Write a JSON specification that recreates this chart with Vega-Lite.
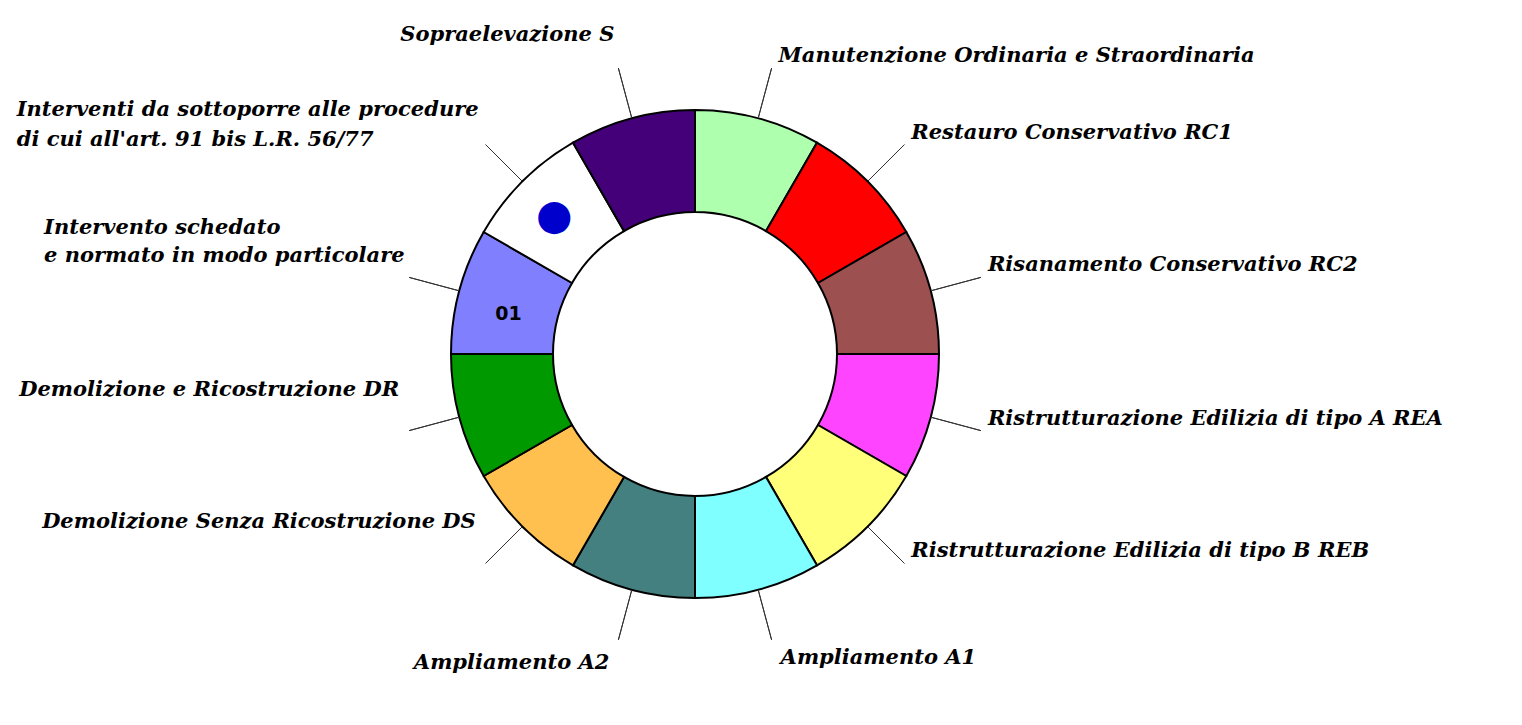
{
  "$schema": "https://vega.github.io/schema/vega-lite/v6.json",
  "width": 490,
  "height": 490,
  "autosize": {"type": "none"},
  "padding": {"left": 450, "top": 109, "right": 582, "bottom": 126},
  "background": "white",
  "config": {"view": {"stroke": null}},
  "data": {
    "values": [
      {"n": 1, "quota": 1, "tipo": "Manutenzione Ordinaria e Straordinaria", "codice": ""},
      {"n": 2, "quota": 1, "tipo": "Restauro Conservativo RC1", "codice": ""},
      {"n": 3, "quota": 1, "tipo": "Risanamento Conservativo RC2", "codice": ""},
      {"n": 4, "quota": 1, "tipo": "Ristrutturazione Edilizia di tipo A REA", "codice": ""},
      {"n": 5, "quota": 1, "tipo": "Ristrutturazione Edilizia di tipo B REB", "codice": ""},
      {"n": 6, "quota": 1, "tipo": "Ampliamento A1", "codice": ""},
      {"n": 7, "quota": 1, "tipo": "Ampliamento A2", "codice": ""},
      {"n": 8, "quota": 1, "tipo": "Demolizione Senza Ricostruzione DS", "codice": ""},
      {"n": 9, "quota": 1, "tipo": "Demolizione e Ricostruzione DR", "codice": ""},
      {"n": 10, "quota": 1, "tipo": "Intervento schedato\n e normato in modo particolare", "codice": "01"},
      {"n": 11, "quota": 1, "tipo": "Interventi da sottoporre alle procedure\ndi cui all'art. 91 bis L.R. 56/77", "codice": ""},
      {"n": 12, "quota": 1, "tipo": "Sopraelevazione S", "codice": ""}
    ]
  },
  "transform": [
    {"stack": "quota", "groupby": [], "sort": [{"field": "n", "order": "ascending"}], "as": ["s0", "s1"]}
  ],
  "layer": [
    {
      "mark": {"type": "arc", "innerRadius": 142, "outerRadius": 244, "stroke": "black", "strokeWidth": 2},
      "encoding": {
        "theta": {"field": "s0", "type": "quantitative", "scale": {"domain": [0, 12]}},
        "theta2": {"field": "s1"},
        "color": {
          "field": "tipo",
          "type": "nominal",
          "legend": null,
          "scale": {
            "domain": [
              "Manutenzione Ordinaria e Straordinaria",
              "Restauro Conservativo RC1",
              "Risanamento Conservativo RC2",
              "Ristrutturazione Edilizia di tipo A REA",
              "Ristrutturazione Edilizia di tipo B REB",
              "Ampliamento A1",
              "Ampliamento A2",
              "Demolizione Senza Ricostruzione DS",
              "Demolizione e Ricostruzione DR",
              "Intervento schedato\n e normato in modo particolare",
              "Interventi da sottoporre alle procedure\ndi cui all'art. 91 bis L.R. 56/77",
              "Sopraelevazione S"
            ],
            "range": ["#AEFFAE", "#FF0000", "#9C5050", "#FF44FF", "#FFFF7A", "#7FFFFF", "#448080", "#FFC050", "#009900", "#8080FF", "#FFFFFF", "#440078"]
          }
        }
      }
    },
    {
      "mark": {"type": "arc", "innerRadius": 245, "outerRadius": 296, "stroke": "#333333", "strokeWidth": 1, "fillOpacity": 0},
      "encoding": {
        "theta": {"field": "s0", "type": "quantitative", "scale": {"domain": [-0.5, 11.5]}},
        "theta2": {"field": "s0"}
      }
    },
    {
      "transform": [{"filter": "datum.n <= 5"}],
      "mark": {"type": "text", "radius": 296, "align": "left", "baseline": "middle", "dx": 7, "dy": -12, "font": "DejaVu Serif", "fontStyle": "italic", "fontWeight": "bold", "fontSize": 21, "color": "black"},
      "encoding": {
        "theta": {"field": "s0", "type": "quantitative", "scale": {"domain": [-0.5, 11.5]}},
        "text": {"field": "tipo"}
      }
    },
    {
      "transform": [{"filter": "datum.n == 6"}],
      "mark": {"type": "text", "radius": 296, "align": "left", "baseline": "middle", "dx": 9, "dy": 18, "font": "DejaVu Serif", "fontStyle": "italic", "fontWeight": "bold", "fontSize": 21, "color": "black"},
      "encoding": {
        "theta": {"field": "s0", "type": "quantitative", "scale": {"domain": [-0.5, 11.5]}},
        "text": {"field": "tipo"}
      }
    },
    {
      "transform": [{"filter": "datum.n == 7"}],
      "mark": {"type": "text", "radius": 296, "align": "right", "baseline": "middle", "dx": -9, "dy": 23, "font": "DejaVu Serif", "fontStyle": "italic", "fontWeight": "bold", "fontSize": 21, "color": "black"},
      "encoding": {
        "theta": {"field": "s0", "type": "quantitative", "scale": {"domain": [-0.5, 11.5]}},
        "text": {"field": "tipo"}
      }
    },
    {
      "transform": [{"filter": "datum.n == 8 || datum.n == 9"}],
      "mark": {"type": "text", "radius": 296, "align": "right", "baseline": "middle", "dx": -10, "dy": -41, "font": "DejaVu Serif", "fontStyle": "italic", "fontWeight": "bold", "fontSize": 21, "color": "black"},
      "encoding": {
        "theta": {"field": "s0", "type": "quantitative", "scale": {"domain": [-0.5, 11.5]}},
        "text": {"field": "tipo"}
      }
    },
    {
      "transform": [{"filter": "datum.n == 12"}],
      "mark": {"type": "text", "radius": 296, "align": "right", "baseline": "middle", "dx": -4, "dy": -33, "font": "DejaVu Serif", "fontStyle": "italic", "fontWeight": "bold", "fontSize": 21, "color": "black"},
      "encoding": {
        "theta": {"field": "s0", "type": "quantitative", "scale": {"domain": [-0.5, 11.5]}},
        "text": {"field": "tipo"}
      }
    },
    {
      "transform": [{"filter": "datum.n == 10"}],
      "mark": {"type": "text", "radius": 296, "align": "left", "baseline": "middle", "dx": -365, "dy": -49, "lineBreak": "\n", "lineHeight": 28, "font": "DejaVu Serif", "fontStyle": "italic", "fontWeight": "bold", "fontSize": 21, "color": "black"},
      "encoding": {
        "theta": {"field": "s0", "type": "quantitative", "scale": {"domain": [-0.5, 11.5]}},
        "text": {"field": "tipo"}
      }
    },
    {
      "transform": [{"filter": "datum.n == 11"}],
      "mark": {"type": "text", "radius": 296, "align": "left", "baseline": "middle", "dx": -469, "dy": -35, "lineBreak": "\n", "lineHeight": 30, "font": "DejaVu Serif", "fontStyle": "italic", "fontWeight": "bold", "fontSize": 21, "color": "black"},
      "encoding": {
        "theta": {"field": "s0", "type": "quantitative", "scale": {"domain": [-0.5, 11.5]}},
        "text": {"field": "tipo"}
      }
    },
    {
      "transform": [{"filter": "datum.codice != ''"}],
      "mark": {"type": "text", "radius": 191, "align": "center", "baseline": "middle", "dx": -2, "dy": 9, "font": "DejaVu Sans", "fontWeight": "bold", "fontSize": 19, "color": "black"},
      "encoding": {
        "theta": {"field": "s0", "type": "quantitative", "scale": {"domain": [-0.5, 11.5]}},
        "text": {"field": "codice"}
      }
    },
    {
      "transform": [{"filter": "datum.n == 11"}],
      "mark": {"type": "text", "radius": 196, "align": "center", "baseline": "middle", "dx": -2, "dy": 1, "font": "DejaVu Sans", "fontSize": 42, "color": "#0000CC", "text": "●"},
      "encoding": {
        "theta": {"field": "s0", "type": "quantitative", "scale": {"domain": [-0.5, 11.5]}}
      }
    }
  ],
  "resolve": {"scale": {"theta": "independent"}}
}
